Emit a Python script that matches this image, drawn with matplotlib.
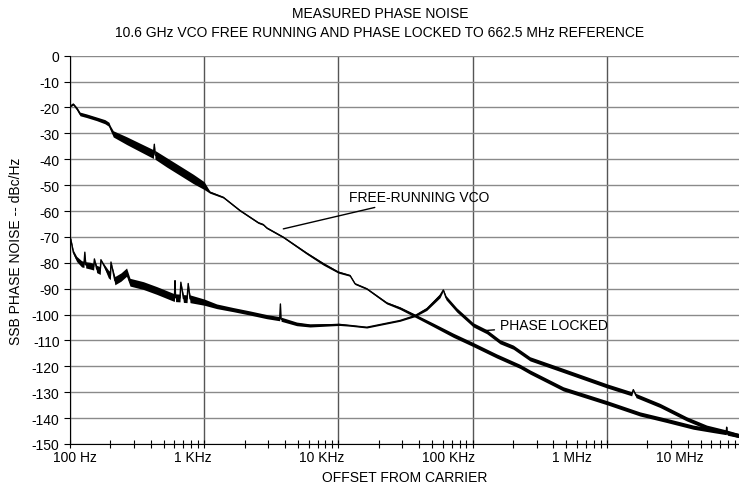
import matplotlib.pyplot as plt
from matplotlib.ticker import FixedLocator, NullFormatter
import numpy as np

plt.rcParams['font.family'] = ['Liberation Sans', 'DejaVu Sans']
plt.rcParams['axes.unicode_minus'] = False

# free-running VCO: offset (Hz), level (dBc/Hz), half-width of the noise band (dB)
fr_freq = [100, 101.7, 105.8, 113, 118.7, 133, 158, 182, 195, 199, 210, 264, 332, 418, 425, 430,
           525, 660, 829, 1000, 1100, 1388, 1848, 2530, 2750, 2922, 3886, 5805, 7718, 9980,
           12200, 13300, 16250, 22900, 28770, 37230, 50950, 71800, 100200, 151200, 225500,
           267700, 474000, 1009000, 1768000, 2795000, 4410000, 6220000, 7750000, 7820000,
           7900000, 9550000, 10000000]
fr_level = [-19.5, -19.3, -18.7, -20.6, -22.5, -23.2, -24.4, -25.5, -26.5, -27.7, -30.2, -32.8,
            -35.4, -38.0, -34.2, -38.3, -41.2, -44.4, -47.6, -50.2, -52.7, -54.7, -59.8, -64.5,
            -65.2, -66.5, -70.1, -76.3, -80.4, -83.6, -84.9, -88.1, -90.0, -95.5, -97.5, -100.4,
            -104.0, -108.0, -111.5, -116.0, -120.0, -122.2, -128.7, -134.1, -138.4, -140.9,
            -143.5, -144.8, -145.6, -143.5, -145.8, -146.7, -147.0]
fr_spread = [0.3, 0.3, 0.4, 0.6, 0.7, 0.7, 0.7, 0.8, 0.8, 0.8, 1.2, 1.5, 1.6, 1.7, 0, 1.7,
             1.8, 1.8, 1.8, 1.5, 0.4, 0.3, 0.3, 0.3, 0.3, 0.3, 0.3, 0.4, 0.5, 0.4, 0.3, 0.3,
             0.3, 0.4, 0.5, 0.6, 0.7, 0.8, 0.8, 0.8, 0.8, 0.8, 0.8, 0.8, 0.8, 0.8, 0.8, 0.8,
             0.8, 0, 0.8, 0.8, 0.8]

# phase locked
pl_freq = [100, 101.2, 102.9, 105.8, 112, 122, 127, 129, 131, 141, 150, 152, 158, 168, 170, 193,
           200, 202, 216, 240, 264, 280, 352, 443, 589, 600, 606, 612, 660, 670, 700, 745, 760,
           784, 1000, 1239, 1648, 2194, 2922, 3650, 3697, 3740, 4890, 6143, 10150, 12200,
           16250, 21600, 28770, 37230, 45500, 57150, 60500, 63370, 76100, 101200, 127400,
           160000, 201000, 267700, 474000, 1009000, 1533000, 1576000, 1650000, 2490000,
           3940000, 5550000, 7820000, 9550000, 10000000]
pl_level = [-70.5, -70.8, -72.7, -75.9, -78.5, -80.4, -80.6, -75.9, -80.8, -81.1, -81.5, -78.5,
            -82.4, -83.0, -78.8, -84.3, -85.0, -79.7, -86.9, -85.5, -83.6, -87.5, -88.8, -90.7,
            -93.3, -93.4, -86.9, -93.5, -93.6, -87.5, -93.8, -93.9, -88.0, -93.9, -95.2, -96.8,
            -98.1, -99.4, -100.8, -101.6, -95.9, -101.8, -103.6, -104.2, -103.8, -104.2, -104.9,
            -103.6, -102.3, -100.4, -97.8, -92.7, -90.5, -93.5, -98.2, -104.0, -106.6, -110.5,
            -112.6, -117.1, -121.6, -127.6, -130.6, -129.0, -131.3, -135.1, -140.3, -143.5,
            -145.4, -146.7, -147.0]
pl_spread = [0.3, 0.3, 0.6, 0.8, 1.0, 1.2, 1.2, 0, 1.2, 1.3, 1.3, 0, 1.4, 1.5, 0, 1.5,
             1.5, 0, 1.6, 1.6, 1.6, 1.5, 1.5, 1.5, 1.5, 1.5, 0, 1.5, 1.5, 0, 1.5, 1.5, 0,
             1.5, 1.2, 0.9, 0.8, 0.8, 0.8, 0.8, 0, 0.8, 0.7, 0.6, 0.4, 0.3, 0.3, 0.3, 0.3,
             0.4, 0.6, 0.8, 0.3, 0.8, 0.8, 0.8, 0.8, 0.8, 0.8, 0.8, 0.8, 0.8, 0.8, 0, 0.8,
             0.8, 0.8, 0.8, 0.8, 0.8, 0.8]

decades = [100, 1e3, 1e4, 1e5, 1e6, 1e7]
tick_labels = ['100 Hz', '1 KHz', '10 KHz', '100 KHz', '1 MHz', '10 MHz']
# where the labels actually sit in the original (not centred on the grid lines)
tick_label_pos = [109, 825, 7550, 66700, 5.5e5, 3.5e6]

fig = plt.figure(figsize=(7.39, 4.89), dpi=100)
ax = fig.add_axes([70 / 739, 44 / 489, 671 / 739, 388.3 / 489])

for f, lvl, sp in [(fr_freq, fr_level, fr_spread), (pl_freq, pl_level, pl_spread)]:
    f = np.array(f)
    lvl = np.array(lvl)
    sp = np.array(sp)
    ax.fill_between(f, lvl - sp, lvl + sp, color='black', lw=0, zorder=3)
    ax.plot(f, lvl, color='black', lw=1.0, zorder=4)

ax.set_xscale('log')
ax.set_xlim(100, 1e7)
ax.set_ylim(-150, 0)

ax.set_yticks(np.arange(-150, 1, 10))
ax.set_yticklabels([str(v) for v in np.arange(-150, 1, 10)], fontsize=10)
ax.yaxis.grid(True, color='#8a8a8a', lw=1.0)

ax.xaxis.set_major_locator(FixedLocator(decades))
ax.xaxis.set_major_formatter(NullFormatter())
ax.xaxis.set_minor_formatter(NullFormatter())
ax.xaxis.grid(True, which='major', color='#555555', lw=1.0)
ax.tick_params(axis='x', which='both', direction='inout', length=6, width=0.8)
ax.tick_params(axis='y', direction='out', length=4, width=0.8)
for pos, lab in zip(tick_label_pos, tick_labels):
    ax.text(pos, -152.3, lab, ha='center', va='top', fontsize=10)

for s in ['top', 'right']:
    ax.spines[s].set_visible(False)
ax.set_axisbelow(True)

ax.annotate('FREE-RUNNING VCO', xy=(3886, -66.9), xytext=(12000, -54.6),
            fontsize=10, va='center', ha='left',
            arrowprops=dict(arrowstyle='-', color='black', lw=1.0, shrinkA=2, shrinkB=0))
ax.annotate('PHASE LOCKED', xy=(123700, -106.2), xytext=(160000, -104),
            fontsize=10, va='center', ha='left',
            arrowprops=dict(arrowstyle='-', color='black', lw=1.0, shrinkA=2, shrinkB=0))

fig.text(380 / 739, 1 - 14 / 489, 'MEASURED PHASE NOISE', ha='center', va='center', fontsize=10)
fig.text(380 / 739, 1 - 33 / 489, '10.6 GHz VCO FREE RUNNING AND PHASE LOCKED TO 662.5 MHz REFERENCE',
         ha='center', va='center', fontsize=10)
fig.text(405 / 739, 1 - 478 / 489, 'OFFSET FROM CARRIER', ha='center', va='center', fontsize=10)
fig.text(16 / 739, 1 - 251 / 489, 'SSB PHASE NOISE -- dBc/Hz', ha='center', va='center',
         rotation=90, fontsize=10)

fig.savefig('out.png', dpi=100)
